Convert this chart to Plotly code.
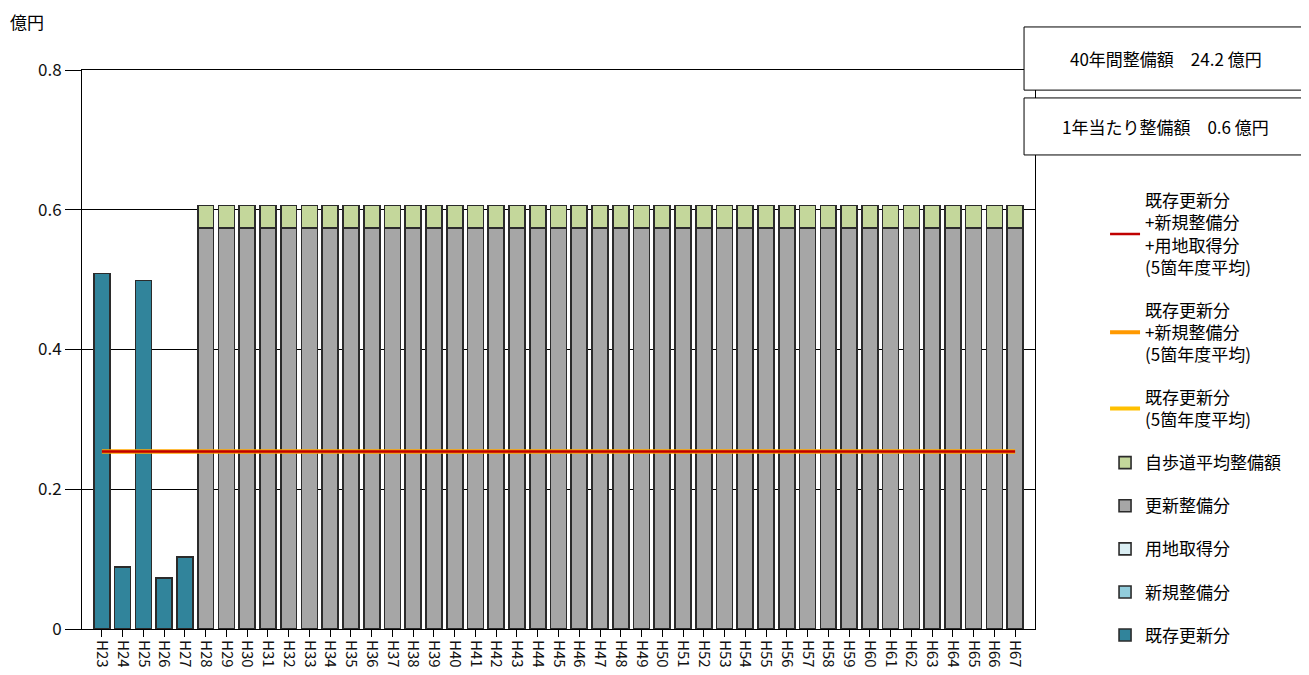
import plotly.graph_objects as go

categories = ["H%d" % n for n in range(23, 68)]
existing_renewal = [0.509, 0.089, 0.499, 0.073, 0.103] + [None] * 40
new_build = [None] * 45
land_acq = [None] * 45
renewal_plan = [None] * 5 + [0.574] * 40
sidewalk_avg = [None] * 5 + [0.032] * 40
avg5_total = [0.254] * 45
avg5_new = [0.254] * 45
avg5_existing = [0.254] * 45

FONT = "Noto Sans CJK JP, Noto Sans, sans-serif"
OUT = "#2b2b2b"

fig = go.Figure()

bar_specs = [
    ("既存更新分", existing_renewal, "#31849B", 1),
    ("新規整備分", new_build, "#92CDDC", 2),
    ("用地取得分", land_acq, "#DAEEF3", 3),
    ("更新整備分", renewal_plan, "#A6A6A6", 4),
    ("自歩道平均整備額", sidewalk_avg, "#C4D79B", 5),
]
for name, vals, col, i in bar_specs:
    fig.add_trace(go.Bar(
        x=categories, y=vals, name=name, legendgroup="g%d" % i,
        legendrank=100 - i,
        marker=dict(color=col, line=dict(color=OUT, width=1.6)),
    ))

line_specs = [
    ("既存更新分<br>(5箇年度平均)", avg5_existing, "#FFC000", 4, 6),
    ("既存更新分<br>+新規整備分<br>(5箇年度平均)", avg5_new, "#FF9900", 4, 7),
    ("既存更新分<br>+新規整備分<br>+用地取得分<br>(5箇年度平均)", avg5_total, "#C00000", 2.5, 8),
]
for name, vals, col, w, i in line_specs:
    fig.add_trace(go.Scatter(
        x=categories, y=vals, name=name, mode="lines", legendgroup="g%d" % i,
        legendrank=100 - i,
        line=dict(color=col, width=w),
    ))

fig.update_layout(
    width=1301, height=667,
    margin=dict(l=74, r=274, t=62, b=46, autoexpand=False),
    barmode="stack", bargap=0.23,
    plot_bgcolor="white", paper_bgcolor="white",
    font=dict(family=FONT, color="#000000", size=16),
    showlegend=True,
    legend=dict(
        x=1.0735, xanchor="left", y=0.7975, yanchor="top",
        traceorder="grouped", tracegroupgap=18,
        font=dict(size=17, color="#000000", family=FONT),
        bgcolor="rgba(0,0,0,0)",
    ),
    xaxis=dict(
        type="category", range=[-0.96, 44.96], tickangle=90,
        showline=True, linecolor="#000000", linewidth=1, mirror=True,
        ticks="outside", ticklen=7, tickcolor="#000000",
        tickfont=dict(size=15, color="#111111", family=FONT),
        showgrid=False,
    ),
    yaxis=dict(
        range=[0, 0.8], dtick=0.2, tick0=0,
        showline=True, linecolor="#000000", linewidth=1, mirror=True,
        ticks="outside", ticklen=16, tickcolor="#000000",
        tickfont=dict(size=17, color="#111111", family=FONT),
        showgrid=True, gridcolor="#000000", gridwidth=1,
        zeroline=False,
    ),
    shapes=[
        dict(type="rect", xref="paper", yref="paper",
             x0=0.9885, x1=1.2854, y0=0.964, y1=1.077,
             line=dict(color="#000000", width=1), fillcolor="white", layer="above"),
        dict(type="rect", xref="paper", yref="paper",
             x0=0.9885, x1=1.2854, y0=0.848, y1=0.950,
             line=dict(color="#000000", width=1), fillcolor="white", layer="above"),
    ],
    annotations=[
        dict(text="億円", xref="paper", yref="paper", x=-0.078, y=1.086,
             xanchor="left", yanchor="middle", showarrow=False,
             font=dict(size=17, color="#000000")),
        dict(text="40年間整備額　24.2 億円", xref="paper", yref="paper",
             x=1.137, y=1.0205, xanchor="center", yanchor="middle", showarrow=False,
             font=dict(size=17, color="#000000")),
        dict(text="1年当たり整備額　0.6 億円", xref="paper", yref="paper",
             x=1.137, y=0.899, xanchor="center", yanchor="middle", showarrow=False,
             font=dict(size=17, color="#000000")),
    ],
)

fig.write_html("out.html")
